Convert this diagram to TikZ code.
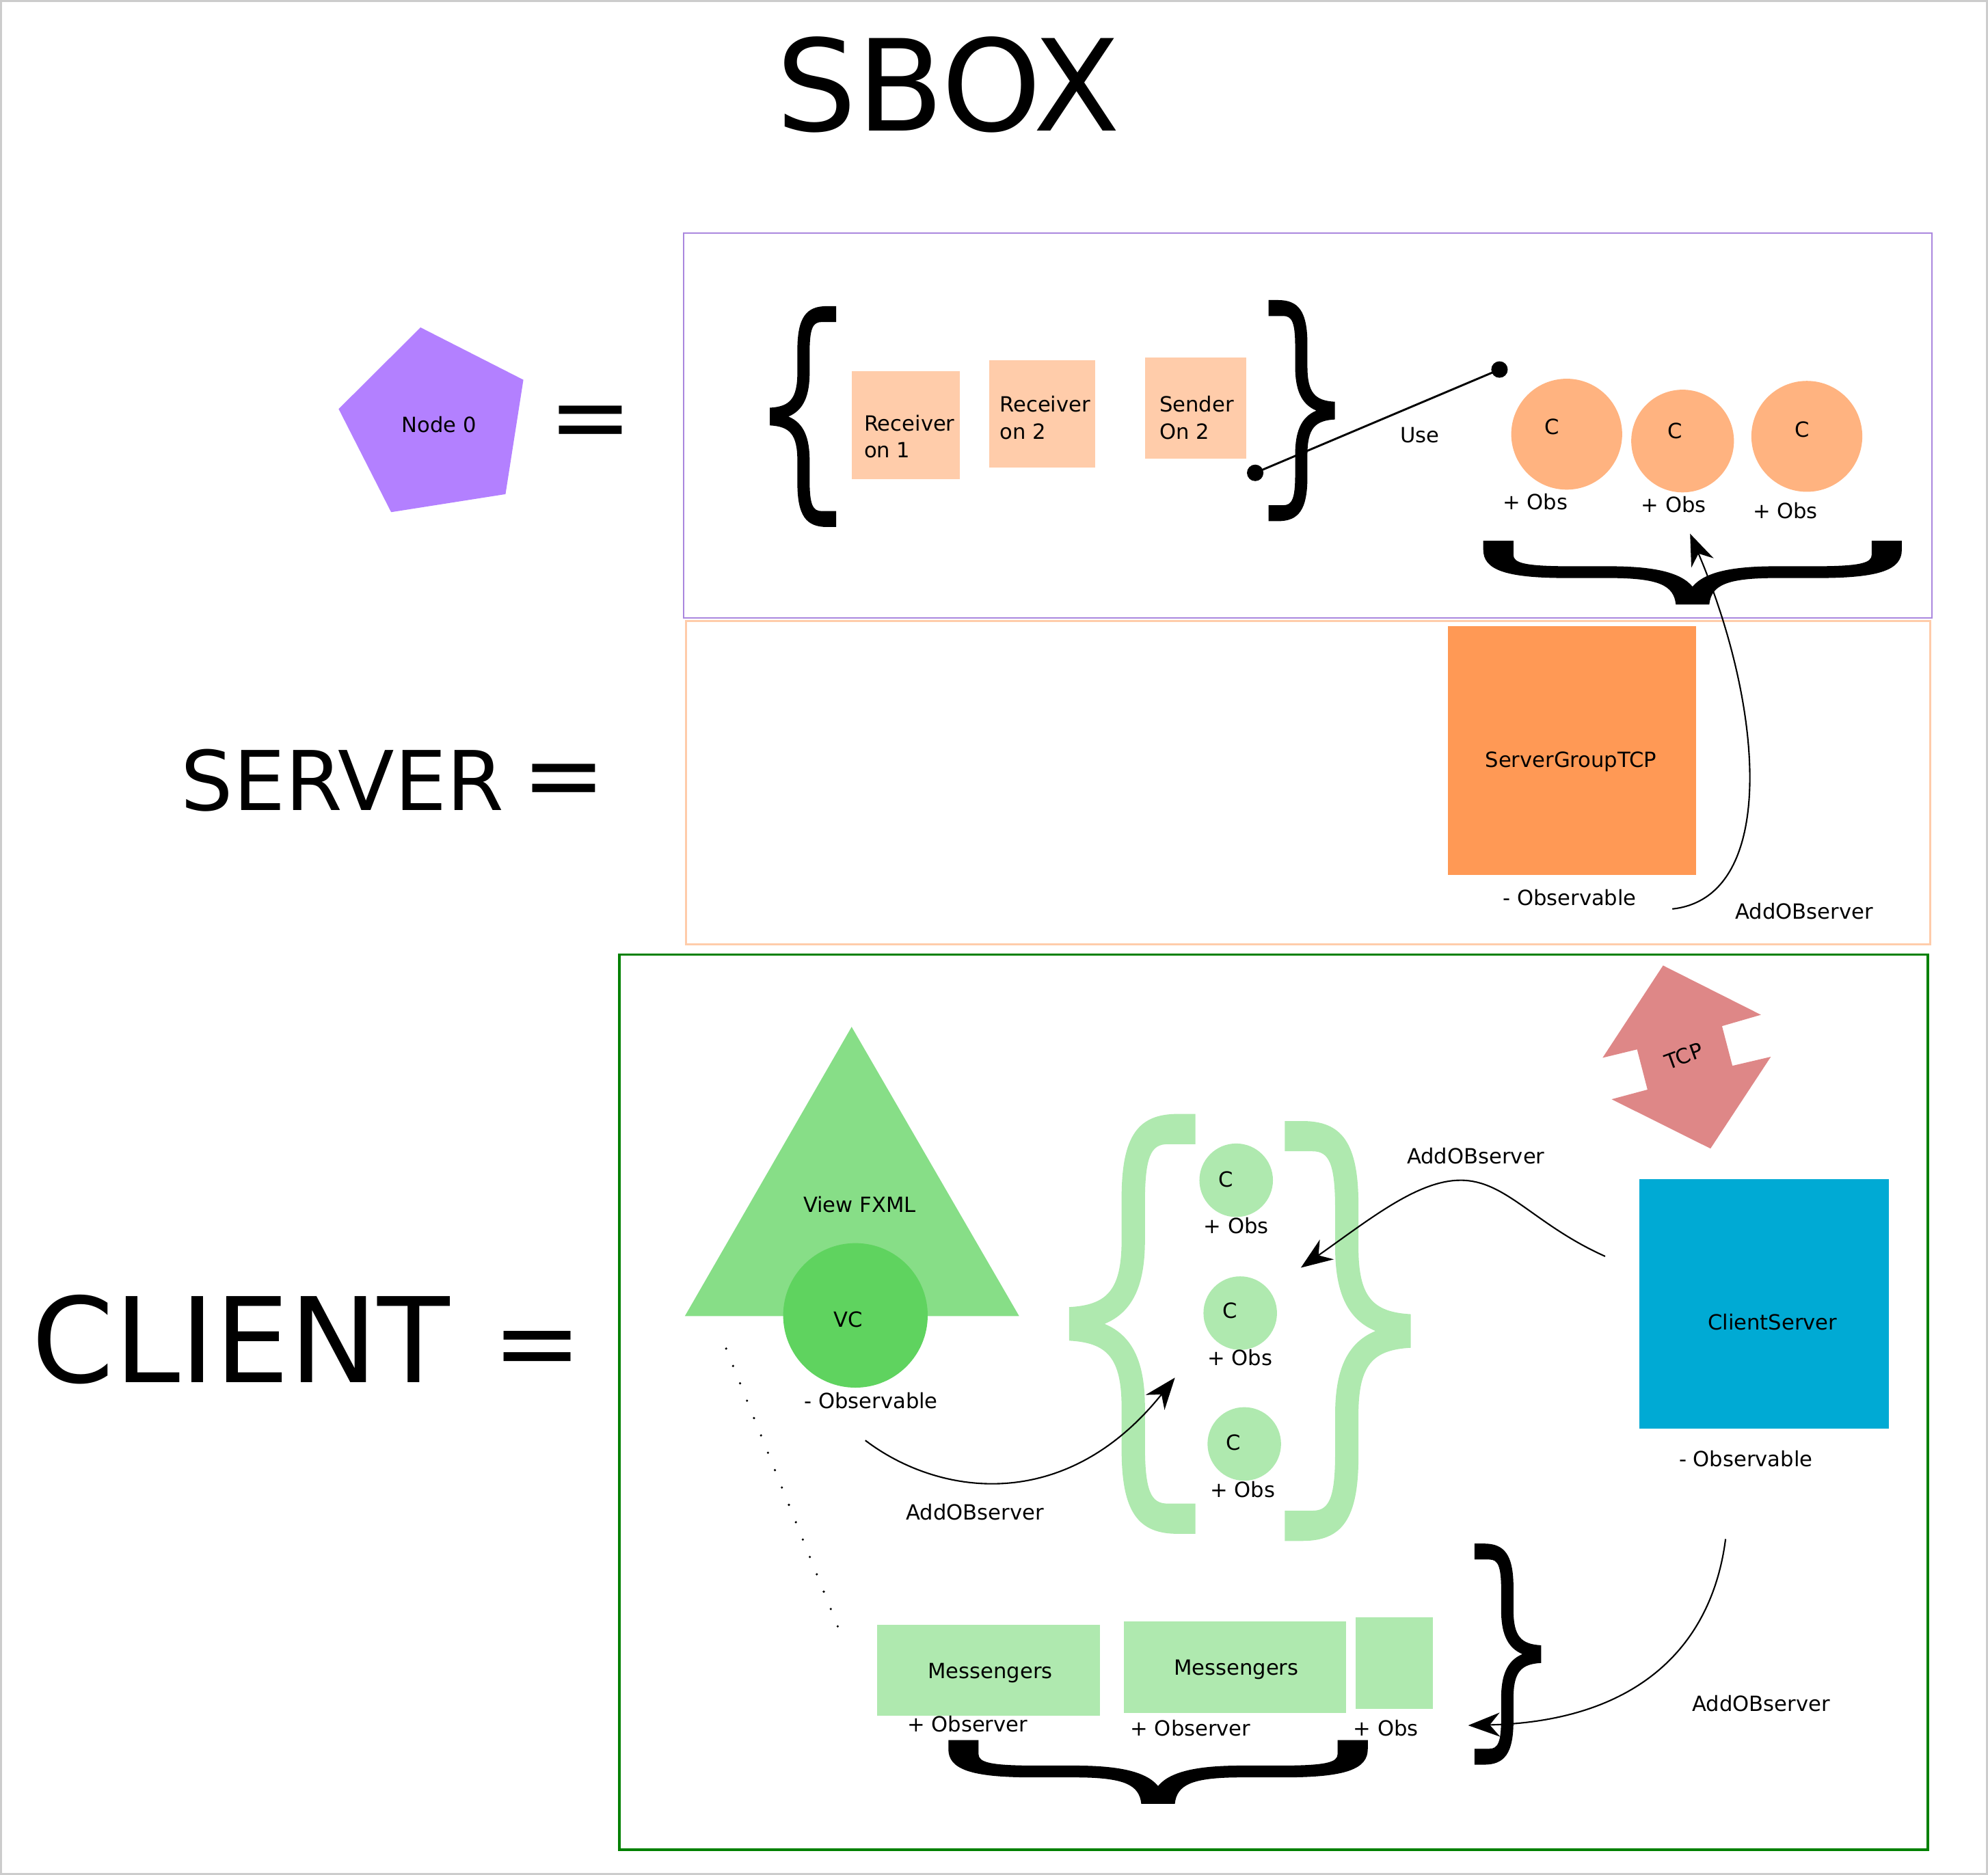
\documentclass[tikz,border=0pt]{standalone}
\usepackage{fontspec}
\setmainfont{DejaVu Sans}
\usetikzlibrary{arrows.meta}

\definecolor{frameGray}{HTML}{CCCCCC}
\definecolor{penta}{HTML}{B380FF}
\definecolor{sboxLine}{HTML}{AA87DE}
\definecolor{peach}{HTML}{FFCCAA}
\definecolor{cOrange}{HTML}{FFB380}
\definecolor{srvOrange}{HTML}{FF9955}
\definecolor{cliGreen}{HTML}{008000}
\definecolor{viewGreen}{HTML}{87DE87}
\definecolor{vcGreen}{HTML}{5FD35F}
\definecolor{paleGreen}{HTML}{AFE9AF}
\definecolor{tcpRed}{HTML}{DE8787}
\definecolor{csBlue}{HTML}{00AAD4}

\tikzset{
  lbl/.style={font=\fontsize{9.4}{12}\selectfont,inner sep=0pt,text height=6.9pt,text depth=0pt},
  twoline/.style={font=\fontsize{9.4}{12}\selectfont,inner sep=0pt,align=left,anchor=north west},
  bigtxt/.style={font=\fontsize{#1}{#1}\selectfont,inner sep=0pt,text height=0.729*#1 pt,text depth=0pt},
  eqsign/.style={font=\fontsize{#1}{#1}\selectfont,inner sep=0pt},
  box/.style={rectangle,inner sep=0pt,draw=none},
  ball/.style={circle,inner sep=0pt,draw=none},
  flow/.style={-{Stealth[length=5mm,width=3.8mm,inset=1.6mm]},line width=0.65pt},
  % accolade, dessinee dans le carre unite, pointe a gauche
  cbrace/.pic={
    \path[pic actions] (1,0) -- (1,0.072) -- (0.78,0.072)
      .. controls (0.65,0.072) and (0.6,0.1) .. (0.6,0.21) -- (0.6,0.30)
      .. controls (0.6,0.4) and (0.52,0.47) .. (0.28,0.5)
      .. controls (0.52,0.53) and (0.6,0.6) .. (0.6,0.70) -- (0.6,0.79)
      .. controls (0.6,0.9) and (0.65,0.928) .. (0.78,0.928) -- (1,0.928) -- (1,1) -- (0.86,1)
      .. controls (0.55,1) and (0.415,0.95) .. (0.415,0.80) -- (0.415,0.70)
      .. controls (0.415,0.58) and (0.3,0.545) .. (0,0.54) -- (0,0.46)
      .. controls (0.3,0.455) and (0.415,0.42) .. (0.415,0.30) -- (0.415,0.20)
      .. controls (0.415,0.05) and (0.55,0) .. (0.86,0) -- cycle;
  }
}

\begin{document}
\begin{tikzpicture}[x=0.02cm,y=-0.02cm,line width=0.65pt]
  \useasboundingbox (0,0) rectangle (1568,1479);
  \draw[frameGray,line width=0.9pt] (0.8,0.8) rectangle (1567.2,1478.2);

  \node[bigtxt=57] (title) at (748,66.5) {SBOX};

  % cadres
  \draw[sboxLine,line width=0.6pt] (539,184) rectangle (1524,487.5);
  \draw[peach,line width=0.8pt] (541,490) rectangle (1522.5,745);
  \draw[cliGreen,line width=1pt] (488.5,753) rectangle (1520.5,1459);

  % node 0
  \fill[penta] (331.7,258.3) -- (412.8,299.6) -- (398.7,389.8) -- (308.5,404) -- (267.1,322.6) -- cycle;
  \node[lbl] (node0) at (346.3,335.2) {Node 0};
  \node[eqsign=45] (eqA) at (466,338) {=};

  % sbox
  \pic[fill=black,xscale=52.3,yscale=174.2] at (607.2,241.5) {cbrace};
  \pic[fill=black,xscale=-52.3,yscale=174.4] at (1052.9,236.7) {cbrace};
  \node[box,fill=peach,minimum width=17mm,minimum height=17mm] (recvA) at (714.5,335.5) {};
  \node[box,fill=peach,minimum width=16.8mm,minimum height=17mm] (recvB) at (822,326.5) {};
  \node[box,fill=peach,minimum width=16mm,minimum height=16mm] (sendB) at (943,322) {};
  \node[twoline] at (681,327) {Receiver\\on 1};
  \node[twoline] at (788,312) {Receiver\\on 2};
  \node[twoline] at (914,312) {Sender\\On 2};

  \coordinate (useA) at (990,373);
  \coordinate (useB) at (1182.7,291.5);
  \draw[line width=0.9pt] (useA) -- (useB);
  \fill (useA) circle (1.3mm);
  \fill (useB) circle (1.3mm);
  \node[lbl] (use) at (1120,343) {Use};

  \node[ball,fill=cOrange,minimum size=17.5mm] (cA) at (1235.7,342.5) {};
  \node[ball,fill=cOrange,minimum size=16.2mm] (cB) at (1327.1,347.9) {};
  \node[ball,fill=cOrange,minimum size=17.5mm] (cC) at (1425.1,344.2) {};
  \node[lbl] at (1223.9,336.8) {C};
  \node[lbl] at (1321.3,339.9) {C};
  \node[lbl] at (1421.2,338.5) {C};
  \node[lbl] at (1210.8,396) {+ Obs};
  \node[lbl] at (1320,398.3) {+ Obs};
  \node[lbl] at (1408.1,402.8) {+ Obs};
  \pic[fill=black,rotate=90,xscale=50.2,yscale=330.1] at (1169.9,476.8) {cbrace};

  % server
  \node[bigtxt=37] (server) at (270,615.5) {SERVER};
  \node[eqsign=45] (eqB) at (445,621) {=};
  \node[box,fill=srvOrange,minimum width=39.2mm,minimum height=39.2mm] (sgtcp) at (1240,592) {};
  \node[lbl] at (1239,599) {ServerGroupTCP};
  \node[lbl] at (1238,708) {- Observable};
  \coordinate (srvFrom) at (1319,717);
  \coordinate (srvTo) at (1333,421);
  \draw[flow] (srvFrom) .. controls (1402,708) and (1392,560) .. (srvTo);
  \node[lbl] at (1423,719) {AddOBserver};

  % client
  \node[bigtxt=53] (client) at (190,1056.5) {CLIENT};
  \node[eqsign=48] (eqC) at (424,1069) {=};

  \fill[tcpRed] (1311.7,761.6) -- (1388.9,800.5) -- (1358.2,809.4) -- (1366.4,840.7) -- (1396.7,833.6)
    -- (1349.1,906) -- (1271.1,867.1) -- (1299.4,859.5) -- (1291.2,827.8) -- (1264,834.4) -- cycle;
  \node[font=\fontsize{9.4}{12}\selectfont,inner sep=0pt,rotate=20] (tcp) at (1328,833) {TCP};

  \fill[viewGreen] (671.7,810) -- (803.8,1038.1) -- (540.2,1038.1) -- cycle;
  \node[lbl] (view) at (678,950) {View FXML};
  \node[ball,fill=vcGreen,minimum size=22.8mm] (vc) at (674.7,1037.6) {};
  \node[lbl] at (669,1041) {VC};
  \node[lbl] at (687,1105) {- Observable};

  \pic[fill=paleGreen,xscale=99.6,yscale=331.2] at (843.3,878.7) {cbrace};
  \pic[fill=paleGreen,xscale=-99.4,yscale=331.2] at (1112.7,884.3) {cbrace};
  \node[ball,fill=paleGreen,minimum size=11.6mm] (gA) at (975,931) {};
  \node[ball,fill=paleGreen,minimum size=11.6mm] (gB) at (978.2,1035.8) {};
  \node[ball,fill=paleGreen,minimum size=11.6mm] (gC) at (981.4,1139) {};
  \node[lbl] at (967,930) {C};
  \node[lbl] at (970,1034) {C};
  \node[lbl] at (973,1138) {C};
  \node[lbl] at (975,967) {+ Obs};
  \node[lbl] at (978,1071) {+ Obs};
  \node[lbl] at (980,1175) {+ Obs};

  \node[box,fill=csBlue,minimum width=39.4mm,minimum height=39.4mm] (clsrv) at (1391.5,1028.5) {};
  \node[lbl] at (1398,1043) {ClientServer};
  \node[lbl] at (1377,1151) {- Observable};

  \coordinate (csFrom) at (1266,991);
  \coordinate (csTo) at (1026,1000);
  \draw[flow] (csFrom) .. controls (1210,966) and (1188,931) .. (1152,931)
    .. controls (1118,931) and (1080,962) .. (csTo);
  \node[lbl] at (1164,912) {AddOBserver};

  \coordinate (vcFrom) at (682.5,1136.2);
  \coordinate (vcTo) at (926.7,1086.7);
  \draw[flow] (vcFrom) .. controls (740,1180) and (840,1195) .. (vcTo);
  \node[lbl] at (769,1193) {AddOBserver};

  \coordinate (dotFrom) at (572.7,1063.8);
  \coordinate (dotTo) at (666,1296);
  \draw[line width=1.1pt,line cap=round,dash pattern=on 0pt off 8.4pt] (dotFrom) -- (dotTo);

  \node[box,fill=paleGreen,minimum width=35.2mm,minimum height=14.4mm] (msgA) at (779.7,1317.5) {};
  \node[box,fill=paleGreen,minimum width=35.1mm,minimum height=14.4mm] (msgB) at (974,1315) {};
  \node[box,fill=paleGreen,minimum width=12.1mm,minimum height=14.5mm] (msgC) at (1099.7,1312) {};
  \node[lbl] at (781,1318) {Messengers};
  \node[lbl] at (975,1315) {Messengers};
  \node[lbl] at (763,1360) {+ Observer};
  \node[lbl] at (939,1363) {+ Observer};
  \node[lbl] at (1093,1363) {+ Obs};
  \pic[fill=black,rotate=90,xscale=50.3,yscale=330.8] at (748,1422.9) {cbrace};
  \pic[fill=black,xscale=-52.5,yscale=174.4] at (1215.5,1217.6) {cbrace};

  \coordinate (csLow) at (1361,1214);
  \coordinate (msgTo) at (1158,1361);
  \draw[flow] (csLow) .. controls (1350,1300) and (1290,1358) .. (msgTo);
  \node[lbl] at (1389,1344) {AddOBserver};
\end{tikzpicture}
\end{document}
